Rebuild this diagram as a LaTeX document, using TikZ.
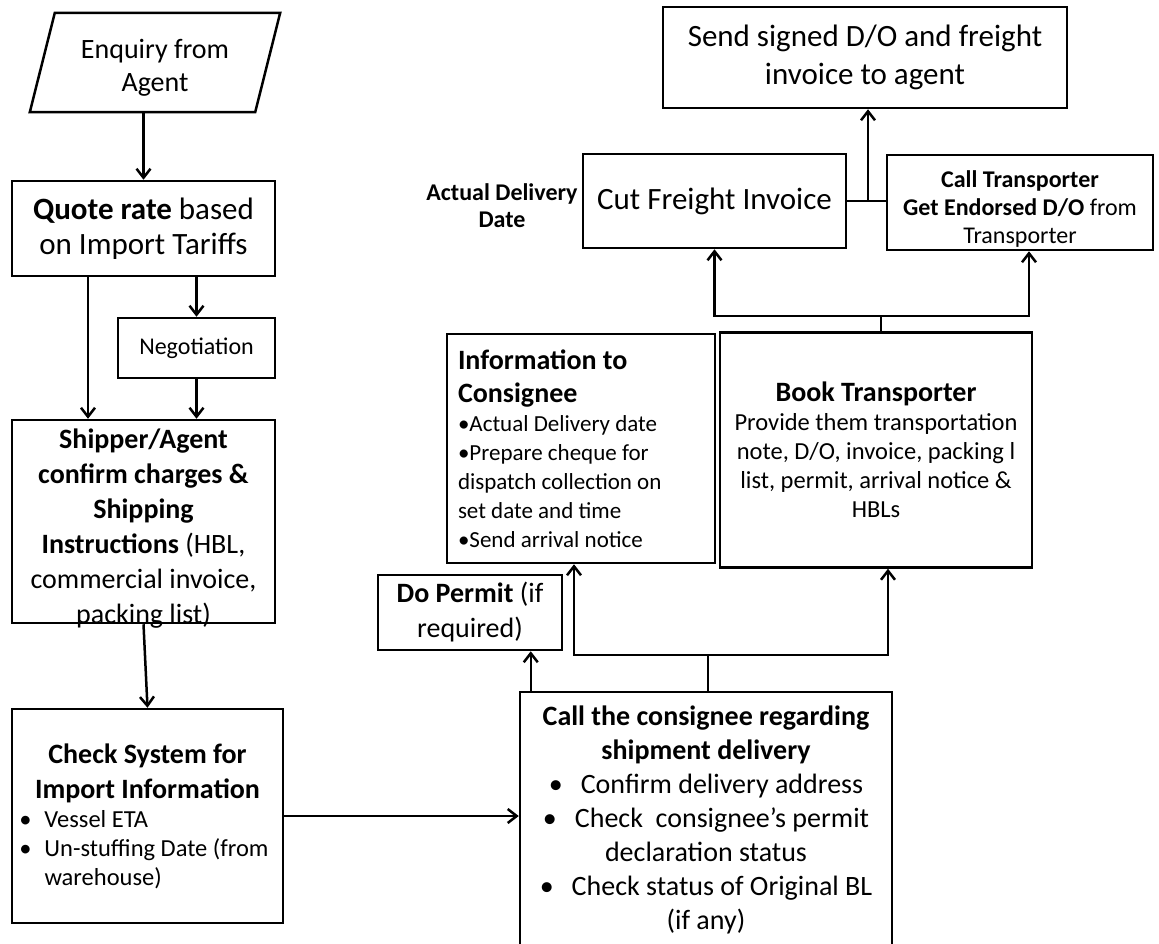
\documentclass[tikz,border=0pt]{standalone}
\usepackage{fontspec}
\setmainfont{Carlito}
\usetikzlibrary{arrows.meta,calc}

\newcommand{\mainsize}{\fontsize{28}{35}\selectfont}
\newcommand{\bigsize}{\fontsize{31}{38}\selectfont}
\newcommand{\notesize}{\fontsize{24}{28}\selectfont}
\newcommand{\listsize}{\fontsize{23}{29}\selectfont}

\begin{document}
\begin{tikzpicture}[x=1pt, y=-1pt,
	box/.style={draw, line width=2.5pt, inner sep=0pt, align=flush center, font=\mainsize},
	link/.style={line width=2.5pt, -{Straight Barb[length=9pt, width=14pt, line width=2.5pt]}}]
	
	\path[use as bounding box, fill=white] (0,0) rectangle (1159,944);
	
	% left column
	\node[inner sep=0pt, minimum width=250pt, minimum height=89pt, align=flush center, font=\fontsize{28}{33}\selectfont] (enq) at (155,67.5) {Enquiry from\\ Agent};
	\draw[line width=2.5pt] ($(enq.north west)+(25,-10)$) -- ($(enq.north east)+(0,-10)$) -- ($(enq.south east)+(-25,0)$) -- (enq.south west) -- cycle;
	
	\node[box, font=\fontsize{31}{35}\selectfont, text width=255pt, minimum width=263pt, minimum height=95pt] (quote) at (143.5,228.5) {\textbf{Quote rate} based\\ on Import Tariffs};
	\node[box, font=\fontsize{24}{28}\selectfont, minimum width=157pt, minimum height=60pt] (nego) at (196.5,348) {Negotiation};
	\node[box, minimum width=263pt, minimum height=203pt] (ship) at (143.5,521.5) {};
	\node[align=flush center, inner sep=0pt, text width=255pt, font=\mainsize] (shiptxt) at (143.5,529) {\textbf{Shipper/Agent}\\ \textbf{confirm charges \&}\\ \textbf{Shipping}\\ \textbf{Instructions} (HBL,\\ commercial invoice,\\ packing list)};
	\node[box, align=flush left, text width=256pt, minimum width=271pt, minimum height=214pt] (chk) at (147.5,816) {{\centering\bfseries Check System for\\ Import Information\par}{\fontsize{24.5}{29}\selectfont\makebox[25pt][l]{\textbullet}Vessel ETA\\ \makebox[25pt][l]{\textbullet}Un-stuffing Date (from\\ \hspace*{25pt}warehouse)\par}};
	
	\draw[link] (enq.south -| quote.north) -- (quote.north);
	\draw[link] (quote.south -| nego.north) -- (nego.north);
	\draw[link] ($(quote.south)+(-55.5,0)$) -- ($(ship.north)+(-55.5,0)$);
	\draw[link] (nego.south) -- (nego.south |- ship.north);
	\draw[link] (ship.south) -- (chk.north);
	
	% right part
	\node[box, text width=362pt, minimum width=372pt, minimum height=256pt, font=\fontsize{28}{34}\selectfont] (call) at (706,820) {\textbf{Call the consignee regarding}\\ \textbf{shipment delivery}\\ \textbullet\hspace{18pt}Confirm delivery address\\ \textbullet\hspace{18pt}Check\ \ consignee’s permit\\ declaration status\\ \textbullet\hspace{18pt}Check status of Original BL\\ (if any)};
	\node[box, text width=178pt, minimum width=184pt, minimum height=75pt] (permit) at (470,612.5) {\textbf{Do Permit} (if\\ required)};
	\node[box, align=flush left, text width=246pt, minimum width=268pt, minimum height=229pt] (info) at (581,448.5) {{\fontsize{28}{33}\selectfont\bfseries Information to\\ Consignee\par}{\listsize\textbullet Actual Delivery date\\ \textbullet Prepare cheque for\\ dispatch collection on\\ set date and time\\ \textbullet Send arrival notice\par}};
	\node[box, text width=304pt, minimum width=312pt, minimum height=235pt] (book) at (876,450) {{\fontsize{28}{32}\selectfont\bfseries Book Transporter\par}{\fontsize{24.5}{29}\selectfont Provide them transportation\\ note, D/O, invoice, packing l\\ list, permit, arrival notice \&\\ HBLs\par}};
	\node[box, font=\bigsize, minimum width=263pt, minimum height=94pt] (cut) at (714.5,201) {Cut Freight Invoice};
	\node[box, font=\notesize, text width=258pt, minimum width=266pt, minimum height=95pt] (callt) at (1020,202.5) {\rule{0pt}{29pt}\textbf{Call Transporter}\\ \textbf{Get Endorsed D/O} from\\ Transporter};
	\node[box, font=\bigsize, text width=396pt, minimum width=404pt, minimum height=101pt] (send) at (865,57.5) {Send signed D/O and freight\\ invoice to agent};
	\node[align=flush center, inner sep=0pt, font=\fontsize{24}{27}\selectfont\bfseries] (adl) at (502,206) {Actual Delivery\\ Date};
	
	\coordinate (j1) at (708,655);
	\coordinate (j2) at (881,316);
	\coordinate (j3) at (868,201);
	
	\draw[link] (chk.east) -- (chk.east -| call.west);
	\draw[link] ($(call.north west)+(12,0)$) coordinate (p1) -- (p1 |- permit.south);
	\draw[line width=2.5pt] (call.north -| j1) -- (j1);
	\draw[link] (j1) -| ($(info.south)+(-7,0)$);
	\draw[link] (j1) -| ($(book.south)+(12,0)$);
	\draw[line width=2.5pt] (book.north -| j2) -- (j2);
	\draw[link] (j2) -| (cut.south);
	\draw[link] (j2) -| ($(callt.south)+(9,0)$);
	\draw[line width=2.5pt] (cut.east) -- (cut.east -| callt.west);
	\draw[link] (j3) -- (j3 |- send.south);
	
\end{tikzpicture}
\end{document}
